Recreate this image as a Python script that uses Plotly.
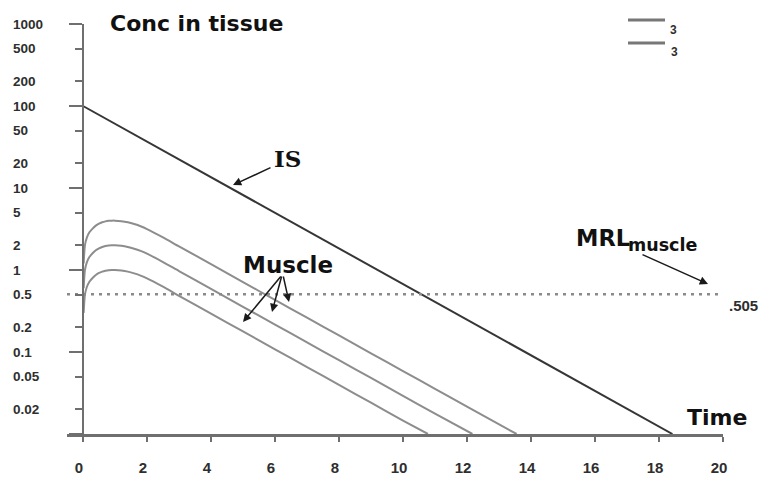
import math
import plotly.graph_objects as go

# ---------------- data ----------------
# IS concentration: mono-exponential decline (straight on the log axis)
time_is = [0.0, 18.42]
conc_is = [100.0, 0.01]

# Muscle concentration curves (three dose levels)
time_muscle_low = [0.02, 0.06, 0.12, 0.2, 0.3, 0.4, 0.5, 0.6, 0.7, 0.8, 0.9, 1.0,
                   1.2, 1.4, 1.6, 1.8, 2.0, 2.5, 3.0, 4, 5, 6, 7, 8, 9, 10, 10.78]
conc_muscle_low = [0.30, 0.50, 0.62, 0.72, 0.80, 0.87, 0.92, 0.955, 0.98, 0.995, 1.0, 1.0,
                   0.985, 0.955, 0.91, 0.855, 0.79, 0.625, 0.485, 0.294, 0.178, 0.108,
                   0.0655, 0.0397, 0.0241, 0.0146, 0.010]

time_muscle_mid = [0.02, 0.06, 0.12, 0.2, 0.3, 0.4, 0.5, 0.6, 0.7, 0.8, 0.9, 1.0,
                   1.2, 1.4, 1.6, 1.8, 2.0, 2.5, 3.0, 4, 5, 6, 7, 8, 9, 10, 11, 12.17]
conc_muscle_mid = [0.60, 1.00, 1.24, 1.44, 1.60, 1.74, 1.84, 1.91, 1.96, 1.99, 2.0, 2.0,
                   1.97, 1.91, 1.82, 1.71, 1.58, 1.25, 0.97, 0.588, 0.356, 0.216,
                   0.131, 0.0794, 0.0482, 0.0292, 0.0177, 0.010]

time_muscle_high = [0.02, 0.06, 0.12, 0.2, 0.3, 0.4, 0.5, 0.6, 0.7, 0.8, 0.9, 1.0,
                    1.2, 1.4, 1.6, 1.8, 2.0, 2.5, 3.0, 4, 5, 6, 7, 8, 9, 10, 11, 12, 13.55]
conc_muscle_high = [1.20, 2.00, 2.48, 2.88, 3.20, 3.48, 3.68, 3.82, 3.92, 3.98, 4.0, 4.0,
                    3.94, 3.82, 3.64, 3.42, 3.16, 2.50, 1.94, 1.18, 0.712, 0.432,
                    0.262, 0.159, 0.0964, 0.0585, 0.0355, 0.0215, 0.010]

# Maximum residue limit in muscle
mrl_value = 0.505
mrl_label = ".505"

# Axis ticks and labels
x_tick_vals = [0, 2, 4, 6, 8, 10, 12, 14, 16, 18, 20]
y_major_ticks = [0.01, 0.1, 1, 10, 100, 1000]
y_minor_ticks = [500, 200, 50, 20, 5, 2, 0.5, 0.2, 0.05, 0.02]
y_label_vals = [1000, 500, 200, 100, 50, 20, 10, 5, 2, 1, 0.5, 0.2, 0.1, 0.05, 0.02]
y_label_text = ["1000", "500", "200", "100", "50", "20", "10", "5", "2", "1",
                "0.5", "0.2", "0.1", "0.05", "0.02"]
legend_labels = ["3", "3"]

# ---------------- layout geometry ----------------
W, H = 761, 477
M_L, M_R, M_T, M_B = 67, 38, 24, 43
X_RANGE = [-0.5, 20]
PLOT_W = W - M_L - M_R
PLOT_H = H - M_T - M_B


def px(xpix):
    return (xpix - M_L) / PLOT_W


def py(ypix):
    return (H - M_B - ypix) / PLOT_H


AXIS_COLOR = "#6f6f6f"
TEXT_DARK = "#111111"
LABEL_COLOR = "#2e2e2e"
SANS_BOLD = "DejaVu Sans"
TICK_FONT = "Liberation Sans, Arial, sans-serif"

fig = go.Figure()

# IS line
fig.add_trace(go.Scatter(x=time_is, y=conc_is, mode="lines",
                         line=dict(color="#363636", width=2), showlegend=False,
                         hoverinfo="skip"))

# Muscle curves
for t, c in [(time_muscle_high, conc_muscle_high),
             (time_muscle_mid, conc_muscle_mid),
             (time_muscle_low, conc_muscle_low)]:
    fig.add_trace(go.Scatter(x=t, y=c, mode="lines",
                             line=dict(color="#8d8d8d", width=2, shape="spline",
                                       smoothing=0.6),
                             showlegend=False, hoverinfo="skip"))

# MRL dotted line across the plot
fig.add_trace(go.Scatter(x=X_RANGE, y=[mrl_value, mrl_value], mode="lines",
                         line=dict(color="#8a8a8a", width=2.5, dash="3px,5px"),
                         showlegend=False, hoverinfo="skip"))

annotations = []

# Y tick labels, left aligned at the page edge
for v, txt in zip(y_label_vals, y_label_text):
    annotations.append(dict(
        x=px(11), xref="paper", xanchor="left",
        y=math.log10(v), yref="y", yanchor="middle",
        text=txt, showarrow=False,
        font=dict(family=TICK_FONT, size=13.5, color=LABEL_COLOR, weight="bold")))

# Titles and labels
annotations.append(dict(x=px(196), y=py(23), xref="paper", yref="paper",
                        text="Conc in tissue", showarrow=False,
                        xanchor="center", yanchor="middle",
                        font=dict(family=SANS_BOLD, size=22, color=TEXT_DARK, weight="bold")))
annotations.append(dict(x=px(717), y=py(417), xref="paper", yref="paper",
                        text="Time", showarrow=False,
                        xanchor="center", yanchor="middle",
                        font=dict(family=SANS_BOLD, size=22, color=TEXT_DARK, weight="bold")))
annotations.append(dict(x=px(287), y=py(159), xref="paper", yref="paper",
                        text="IS", showarrow=False,
                        xanchor="center", yanchor="middle",
                        font=dict(family="DejaVu Serif", size=23, color=TEXT_DARK, weight="bold")))
annotations.append(dict(x=px(288), y=py(265), xref="paper", yref="paper",
                        text="Muscle", showarrow=False,
                        xanchor="center", yanchor="middle",
                        font=dict(family=SANS_BOLD, size=23, color=TEXT_DARK, weight="bold")))
annotations.append(dict(x=px(574), y=py(238), xref="paper", yref="paper",
                        text="MRL", showarrow=False,
                        xanchor="left", yanchor="middle",
                        font=dict(family=SANS_BOLD, size=22.5, color=TEXT_DARK, weight="bold")))
annotations.append(dict(x=px(626), y=py(245), xref="paper", yref="paper",
                        text="muscle", showarrow=False,
                        xanchor="left", yanchor="middle",
                        font=dict(family=SANS_BOLD, size=17.5, color=TEXT_DARK, weight="bold")))
annotations.append(dict(x=px(727), y=math.log10(mrl_value), xref="paper", yref="y",
                        yshift=-11, text=mrl_label, showarrow=False,
                        xanchor="left", yanchor="middle",
                        font=dict(family=TICK_FONT, size=15, color=LABEL_COLOR, weight="bold")))

# Pointer arrows: (tail x, tail y, head x, head y) in pixels
arrows = [
    (272, 167, 233, 185),
    (282, 275, 243, 322),
    (282, 275, 272, 312),
    (283, 275, 289, 302),
    (641, 254, 708, 284),
]
for tx, ty, hx, hy in arrows:
    annotations.append(dict(x=px(hx), y=py(hy), xref="paper", yref="paper",
                            ax=tx - hx, ay=ty - hy, axref="pixel", ayref="pixel",
                            text="", showarrow=True, arrowhead=2, arrowsize=1.1,
                            arrowwidth=1.5, arrowcolor="#1a1a1a", standoff=0))

# Legend key labels
for (lx, ly), txt in zip([(673, 30), (674, 52)], legend_labels):
    annotations.append(dict(x=px(lx), y=py(ly), xref="paper", yref="paper",
                            text=txt, showarrow=False,
                            xanchor="center", yanchor="middle",
                            font=dict(family=TICK_FONT, size=12, color=LABEL_COLOR, weight="bold")))

shapes = []
for ly in (20, 43):
    shapes.append(dict(type="line", xref="paper", yref="paper",
                       x0=px(628), x1=px(665), y0=py(ly), y1=py(ly),
                       line=dict(color="#777777", width=3)))

fig.update_layout(
    width=W, height=H,
    margin=dict(l=M_L, r=M_R, t=M_T, b=M_B, pad=0, autoexpand=False),
    paper_bgcolor="white", plot_bgcolor="white",
    showlegend=False,
    annotations=annotations,
    shapes=shapes,
    xaxis=dict(
        range=X_RANGE, showgrid=False, zeroline=False, automargin=False,
        showline=True, linecolor=AXIS_COLOR, linewidth=2.5,
        ticks="outside", ticklen=5, tickwidth=2, tickcolor=AXIS_COLOR,
        tickvals=x_tick_vals, ticktext=[str(v) for v in x_tick_vals],
        tickfont=dict(family=TICK_FONT, size=15, color=LABEL_COLOR, weight="bold"),
        ticklabelstandoff=13, ticklabelshift=-4,
    ),
    yaxis=dict(
        type="log", range=[-2, 3], showgrid=False, zeroline=False, automargin=False,
        anchor="free", position=(0 - X_RANGE[0]) / (X_RANGE[1] - X_RANGE[0]),
        showline=True, linecolor=AXIS_COLOR, linewidth=2,
        ticks="outside", ticklen=13, tickwidth=2, tickcolor=AXIS_COLOR,
        tickvals=y_major_ticks, showticklabels=False,
        minor=dict(tickvals=y_minor_ticks, ticks="outside", ticklen=7,
                   tickwidth=2, tickcolor=AXIS_COLOR),
    ),
)

fig.write_html("out.html")
